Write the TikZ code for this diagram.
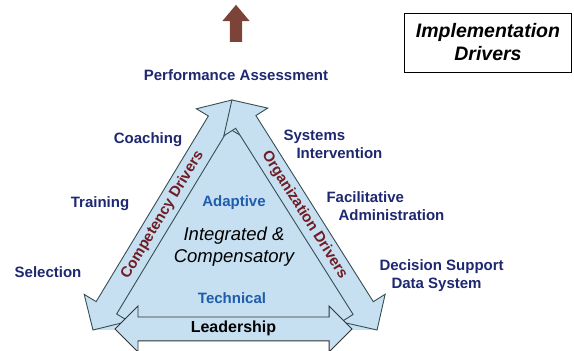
\documentclass[tikz,border=0pt]{standalone}
\usepackage{fontspec}
\setmainfont{Liberation Sans}
\usetikzlibrary{shapes.arrows}

\definecolor{driverfill}{RGB}{198,224,241}
\definecolor{driveredge}{RGB}{55,78,82}
\definecolor{labelnavy}{RGB}{30,40,112}
\definecolor{labelblue}{RGB}{32,92,172}
\definecolor{driverred}{RGB}{112,28,34}
\definecolor{outcomebrown}{RGB}{124,68,56}

\begin{document}
\begin{tikzpicture}[x=1pt, y=1pt,
    drivertext/.style={font=\fontsize{15}{18}\selectfont\bfseries, text=labelnavy, align=left},
    leveltext/.style={font=\fontsize{15}{18}\selectfont\bfseries, text=labelblue},
    sidearrow/.style={double arrow, draw=driveredge, fill=driverfill, line width=0.9pt,
      double arrow head extend=14pt, text height=11.5pt, text depth=3.5pt, inner ysep=4pt,
      inner xsep=0pt, font=\fontsize{15}{17}\selectfont\bfseries, text=driverred},
    basearrow/.style={sidearrow, draw=black!80, double arrow head extend=11pt,
      font=\fontsize{16}{18}\selectfont\bfseries, text=black}]
  \useasboundingbox (0,0) rectangle (574,351);
  % corners of the triangle
  \coordinate (apex) at (232,251);
  \coordinate (leftcorner) at (93,21);
  \coordinate (rightcorner) at (377,21);
  \fill[driverfill] (apex) -- (leftcorner) -- (rightcorner) -- cycle;
  % the three sides
  \node[sidearrow, minimum height=268.8, rotate=58.85] (competency) at (162.5,136) {Competency Drivers};
  \node[sidearrow, minimum height=272, rotate=-57.75] (organization) at (304.5,136) {Organization Drivers};
  \node[basearrow, minimum height=237] (leadership) at (233.5,22) {Leadership};
  % inside the triangle
  \node[leveltext] (adaptive) at (234,148) {Adaptive};
  \node[font=\fontsize{18.5}{22}\selectfont\itshape, align=center] (core) at (234,104) {Integrated \&\\Compensatory};
  \node[leveltext] (technical) at (232,53) {Technical};
  % outcome on top
  \node[single arrow, fill=outcomebrown, rotate=90, minimum height=37, text height=0pt,
    text depth=0pt, inner ysep=6pt, inner xsep=0pt, single arrow head extend=7.5pt,
    single arrow tip angle=80] (outcome) at (236,324) {};
  \node[drivertext] (performance) at (236,276) {Performance Assessment};
  % competency side
  \node[drivertext] (coaching) at (148,211) {Coaching};
  \node[drivertext] (training) at (100,147) {Training};
  \node[drivertext] (selection) at (48,79) {Selection};
  % organization side
  \node[drivertext, anchor=west] (systems) at (280,207) {Systems\\\hspace*{13pt}Intervention};
  \node[drivertext, anchor=west] (facilitative) at (323,145) {Facilitative\\\hspace*{12pt}Administration};
  \node[drivertext, anchor=west] (decision) at (376,75) {Decision Support\\\hspace*{12pt}Data System};
  % title box
  \node[draw, line width=0.8pt, minimum width=167, minimum height=59, align=center,
    font=\fontsize{19.5}{23}\selectfont\bfseries\itshape] (title) at (488,308.5) {Implementation\\Drivers};
\end{tikzpicture}
\end{document}
